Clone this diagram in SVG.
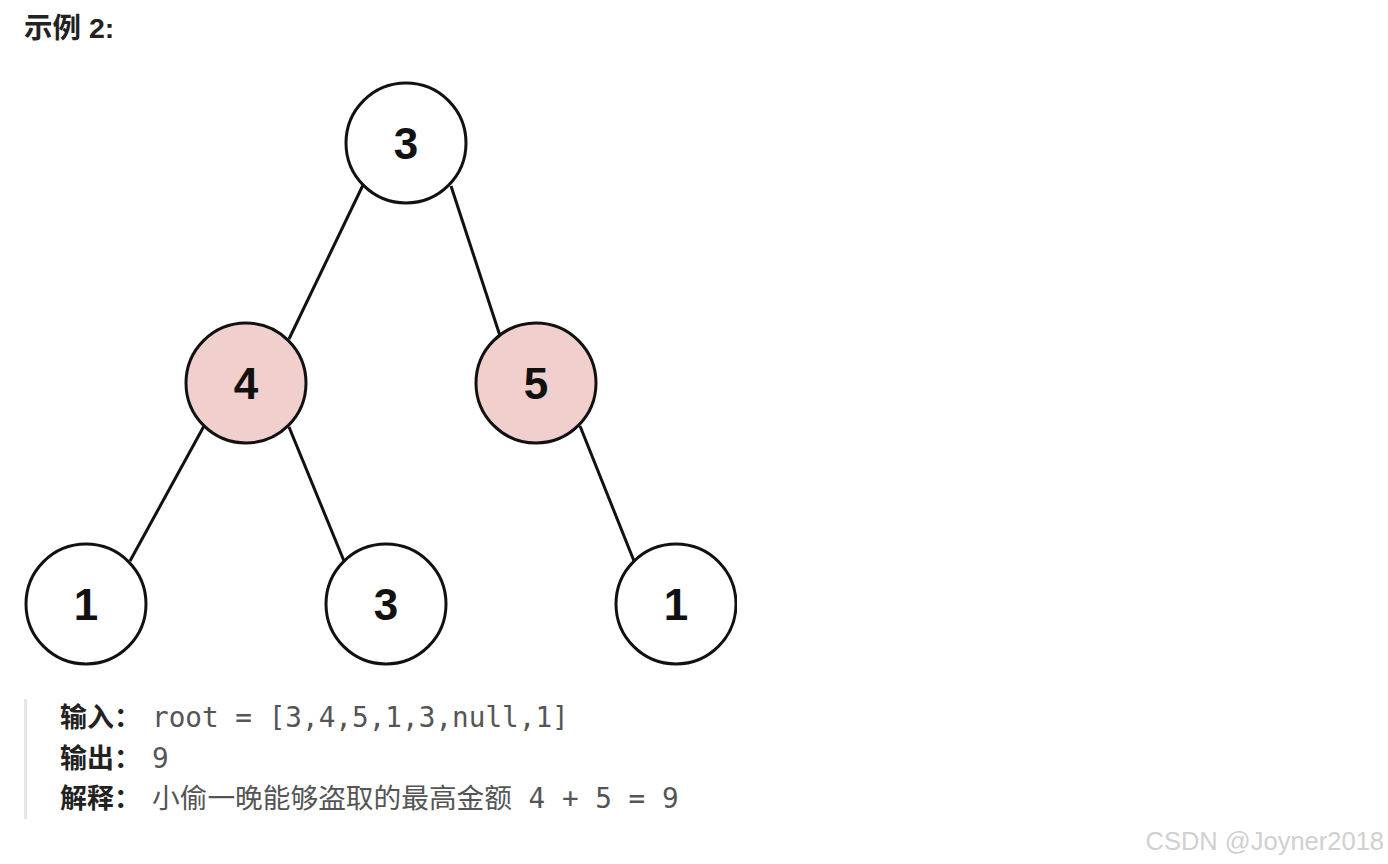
<svg xmlns="http://www.w3.org/2000/svg" width="1388" height="864" viewBox="0 0 1388 864">
<style>
.n{stroke:#111;stroke-width:3;fill:#fff}
.p{fill:#f0cfcc}
.t{font-family:"Liberation Sans",Arial,sans-serif;font-weight:bold;font-size:44px;fill:#111;text-anchor:middle}
.e{stroke:#111;stroke-width:3;fill:none}
.lb{font-family:"Liberation Sans","Noto Sans CJK SC",sans-serif;font-weight:bold;font-size:27px;fill:#222}
.mo{font-family:"DejaVu Sans Mono","Noto Sans CJK SC",monospace;font-size:27.7px;fill:#555}
</style>
<defs><clipPath id="c"><rect x="0" y="0" width="737" height="864"/></clipPath></defs>
<rect width="1388" height="864" fill="#fff"/>
<text x="24" y="38" class="lb" style="font-size:28.5px">示例 2:</text>
<g id="edges">
<line class="e" x1="363" y1="185" x2="289" y2="339"/>
<line class="e" x1="451" y1="186" x2="502" y2="342"/>
<line class="e" x1="204" y1="426" x2="130" y2="561"/>
<line class="e" x1="289" y1="427" x2="344" y2="561"/>
<line class="e" x1="580" y1="426" x2="634" y2="561"/>
</g>
<g id="n3"><circle class="n" cx="406" cy="143" r="60"/><text class="t" x="406" y="159">3</text></g>
<g id="n4"><circle class="n p" cx="246" cy="383" r="60"/><text class="t" x="246" y="399">4</text></g>
<g id="n5"><circle class="n p" cx="536" cy="383" r="60"/><text class="t" x="536" y="399">5</text></g>
<g id="n1a"><circle class="n" cx="86" cy="604" r="60"/><text class="t" x="86" y="620">1</text></g>
<g id="n3b"><circle class="n" cx="386" cy="604" r="60"/><text class="t" x="386" y="620">3</text></g>
<g id="n1b" clip-path="url(#c)"><circle class="n" cx="676" cy="604" r="60"/><text class="t" x="676" y="620">1</text></g>
<rect x="24" y="699" width="3" height="120" fill="#e6e6e6"/>
<text x="60" y="727" class="lb">输入：</text>
<text x="152" y="727" class="mo">root = [3,4,5,1,3,null,1]</text>
<text x="60" y="768" class="lb">输出：</text>
<text x="152" y="768" class="mo">9</text>
<text x="60" y="808" class="lb">解释：</text>
<text x="152" y="808" class="mo">小偷一晚能够盗取的最高金额 4 + 5 = 9</text>
<text x="1384" y="850" text-anchor="end" font-family="Liberation Sans,Arial,sans-serif" font-size="25.5" fill="#d0d0d0">CSDN @Joyner2018</text>
</svg>
